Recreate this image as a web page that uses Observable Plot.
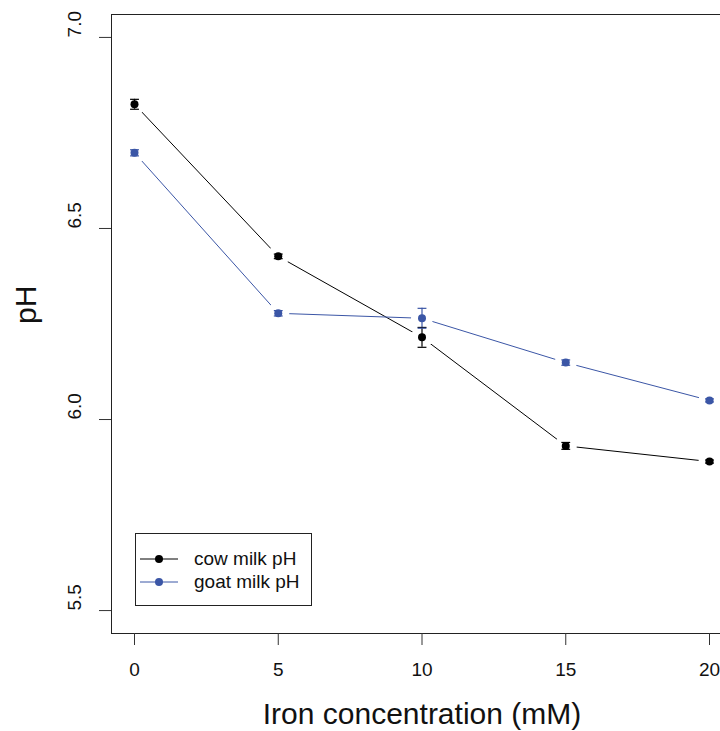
<!DOCTYPE html>
<html>
<head>
<meta charset="utf-8">
<script src="https://cdn.jsdelivr.net/npm/d3@7"></script>
<script src="https://cdn.jsdelivr.net/npm/@observablehq/plot@0.6"></script>
<style>
  html, body { margin: 0; padding: 0; background: white; overflow: hidden; }
  #wrap { position: relative; width: 720px; height: 731px; overflow: hidden; font-family: "Liberation Sans", Arial, sans-serif; }
  #legend { position: absolute; left: 135px; top: 533px; width: 177px; height: 73px; border: 1px solid #222; background: white; box-sizing: border-box; }
  .row { position: absolute; left: 0; height: 22px; display: flex; align-items: center; font-size: 19px; color: #111; }
  .row svg { margin-left: 3px; margin-right: 15px; }
</style>
</head>
<body>
<div id="wrap"></div>
<script>
const series = ["cow milk pH", "goat milk pH"];
const colors = ["#000000", "#3b56a6"];
const iron = [0, 5, 10, 15, 20];
const cowPH = [6.825, 6.427, 6.215, 5.931, 5.890];
const cowErr = [0.013, 0.006, 0.026, 0.009, 0.004];
const goatPH = [6.698, 6.278, 6.265, 6.149, 6.050];
const goatErr = [0.008, 0.007, 0.026, 0.007, 0.004];
const xTicks = [0, 5, 10, 15, 20];
const yTicks = [5.5, 6.0, 6.5, 7.0];
const yTickLabels = ["5.5", "6.0", "6.5", "7.0"];
const xTitle = "Iron concentration (mM)";
const yTitle = "pH";

const rows = [];
iron.forEach((x, i) => {
  rows.push({x, y: cowPH[i], e: cowErr[i], s: series[0]});
  rows.push({x, y: goatPH[i], e: goatErr[i], s: series[1]});
});
const caps = rows.flatMap(d => [{x: d.x, y: d.y - d.e, s: d.s}, {x: d.x, y: d.y + d.e, s: d.s}]);

const hbar = { draw(ctx, size) { const r = Math.sqrt(size) / 2; ctx.moveTo(-r, 0); ctx.lineTo(r, 0); } };

const font = "'Liberation Sans', Arial, sans-serif";

const chart = Plot.plot({
  width: 745,
  height: 731,
  marginLeft: 111,
  marginRight: 13,
  marginTop: 14,
  marginBottom: 98,
  style: { fontFamily: font, maxWidth: "none", background: "white", overflow: "visible", color: "#111" },
  x: { domain: [-0.8, 20.8] },
  y: { domain: [5.44, 7.06] },
  color: { domain: series, range: colors },
  marks: [
    Plot.frame({ stroke: "#222" }),
    Plot.axisX({ ticks: xTicks, tickSize: 12, tickPadding: 17, fontSize: 19, label: null, stroke: "#333" }),
    Plot.axisY({ ticks: yTicks, tickSize: 12, tickFormat: () => "", label: null, stroke: "#333" }),
    Plot.text(yTicks, { y: d => d, frameAnchor: "left", dx: -37, rotate: -90, text: (d, i) => yTickLabels[i], fontSize: 19, fill: "#111" }),
    Plot.text([xTitle], { frameAnchor: "bottom", dy: 90, text: d => d, fontSize: 30, fill: "#111" }),
    Plot.text([yTitle], { frameAnchor: "left", dx: -85, rotate: -90, text: d => d, fontSize: 30, fill: "#111" }),
    Plot.line(rows, { x: "x", y: "y", z: "s", stroke: "s", strokeWidth: 1 }),
    Plot.dot(rows, { x: "x", y: "y", r: 11, fill: "white" }),
    Plot.ruleX(rows, { x: "x", y1: d => d.y - d.e, y2: d => d.y + d.e, stroke: "s", strokeWidth: 1.2 }),
    Plot.dot(caps, { x: "x", y: "y", symbol: hbar, r: 5, stroke: "s", strokeWidth: 1.2 }),
    Plot.dot(rows, { x: "x", y: "y", r: 4, fill: "s" })
  ]
});

const wrap = document.getElementById("wrap");
wrap.appendChild(chart);

const legend = document.createElement("div");
legend.id = "legend";
series.forEach((s, i) => {
  const row = document.createElement("div");
  row.className = "row";
  row.style.top = (14 + i * 23) + "px";
  row.innerHTML = `<svg width="40" height="12"><line x1="1" x2="39" y1="6" y2="6" stroke="${colors[i]}" stroke-width="1"/><circle cx="20" cy="6" r="4" fill="${colors[i]}"/></svg><span>${s}</span>`;
  legend.appendChild(row);
});
wrap.appendChild(legend);
</script>
</body>
</html>
